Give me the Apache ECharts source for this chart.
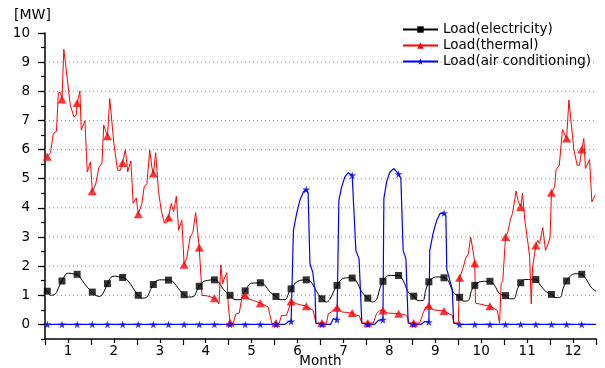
<!DOCTYPE html>
<html>
<head>
<meta charset="utf-8">
<script src="https://cdn.jsdelivr.net/npm/echarts@6/dist/echarts.min.js"></script>
<style>
  html, body { margin: 0; padding: 0; background: #fff; }
  #chart { width: 605px; height: 368px; }
</style>
</head>
<body>
<div id="chart"></div>
<script>
// month labels sit between the month boundaries
const monthLabels = ['1', '2', '3', '4', '5', '6', '7', '8', '9', '10', '11', '12']
const yTicks = [0, 1, 2, 3, 4, 5, 6, 7, 8, 9, 10]
const gridLevels = [1, 2, 3, 4, 5, 6, 7, 8, 9]

// x position (month) of every marker
const markerMonth = [0.05, 0.37, 0.70, 1.03, 1.36, 1.69, 2.03, 2.36, 2.69, 3.03, 3.36, 3.69,
  4.03, 4.36, 4.69, 5.03, 5.36, 5.69, 6.03, 6.36, 6.69, 7.03, 7.36, 7.70,
  8.03, 8.36, 8.69, 9.03, 9.36, 9.69, 10.03, 10.36, 10.69, 11.03, 11.36, 11.69]

const elecMarkers = [1.14, 1.49, 1.72, 1.11, 1.40, 1.61, 1.00, 1.37, 1.52, 1.02, 1.31, 1.53,
  1.00, 1.15, 1.43, 0.96, 1.22, 1.53, 0.88, 1.34, 1.59, 0.90, 1.48, 1.68,
  0.97, 1.46, 1.60, 0.93, 1.34, 1.48, 0.99, 1.43, 1.54, 1.03, 1.49, 1.72]
const thermMarkers = [5.75, 7.72, 7.60, 4.57, 6.46, 5.54, 3.78, 5.18, 3.67, 2.05, 2.64, 0.90,
  0.06, 1.00, 0.73, 0.05, 0.79, 0.62, 0.05, 0.57, 0.39, 0.05, 0.48, 0.37,
  0.05, 0.64, 0.46, 1.60, 2.10, 0.62, 3.00, 4.03, 2.71, 4.52, 6.38, 6.00]
const acMarkers = [0, 0, 0, 0, 0, 0, 0, 0, 0, 0, 0, 0,
  0, 0, 0, 0, 0.10, 4.63, 0, 0.16, 5.12, 0, 0.16, 5.16,
  0, 0.08, 3.82, 0, 0, 0, 0, 0, 0, 0, 0, 0]

// line vertices between the markers
const elecLine = [[0, 1.16], [0.12, 1.0], [0.23, 1.05], [0.30, 1.28], [0.45, 1.72], [0.52, 1.76], [0.63, 1.73],
  [0.81, 1.51], [0.92, 1.28], [1.10, 1.0], [1.19, 0.96], [1.28, 1.11], [1.44, 1.62], [1.53, 1.66], [1.61, 1.63],
  [1.79, 1.53], [1.93, 1.22], [2.11, 0.90], [2.22, 0.94], [2.30, 1.20], [2.44, 1.51], [2.55, 1.53],
  [2.80, 1.45], [2.91, 1.22], [3.13, 0.94], [3.24, 0.96], [3.31, 1.17], [3.44, 1.46], [3.53, 1.51],
  [3.78, 1.46], [3.89, 1.19], [4.14, 0.85], [4.25, 0.85], [4.31, 1.0], [4.47, 1.40], [4.55, 1.42],
  [4.79, 1.34], [4.90, 1.11], [5.12, 0.85], [5.23, 0.85], [5.30, 1.05], [5.45, 1.42], [5.55, 1.51],
  [5.79, 1.46], [5.90, 1.17], [6.13, 0.77], [6.20, 0.85], [6.28, 1.11], [6.46, 1.55], [6.57, 1.60],
  [6.78, 1.49], [6.90, 1.11], [7.13, 0.77], [7.22, 0.85], [7.29, 1.22], [7.44, 1.65], [7.55, 1.68],
  [7.80, 1.51], [7.91, 1.11], [8.12, 0.82], [8.23, 0.82], [8.29, 1.17], [8.45, 1.60], [8.56, 1.63],
  [8.78, 1.51], [8.89, 1.11], [9.12, 0.80], [9.22, 0.82], [9.29, 1.17], [9.47, 1.46], [9.57, 1.48],
  [9.79, 1.34], [9.90, 1.05], [10.12, 0.88], [10.21, 0.88], [10.29, 1.22], [10.45, 1.54], [10.53, 1.54],
  [10.79, 1.34], [10.92, 1.11], [11.13, 0.92], [11.23, 0.94], [11.28, 1.22], [11.46, 1.69], [11.57, 1.74],
  [11.78, 1.57], [11.89, 1.28], [12.0, 1.14]]

const thermLine = [[0, 5.70], [0.12, 5.89], [0.18, 6.55], [0.25, 6.63], [0.29, 7.95], [0.34, 7.95],
  [0.41, 9.44], [0.48, 8.50], [0.55, 7.53], [0.63, 7.12], [0.68, 7.18], [0.76, 8.01], [0.79, 6.67],
  [0.87, 6.99], [0.92, 5.23], [0.99, 5.58], [1.10, 4.78], [1.17, 5.37], [1.24, 5.53], [1.28, 6.84],
  [1.32, 6.78], [1.41, 7.75], [1.50, 6.21], [1.58, 5.29], [1.64, 5.29], [1.75, 6.00], [1.80, 5.23],
  [1.87, 5.61], [1.92, 4.15], [1.99, 4.34], [2.11, 4.15], [2.16, 4.72], [2.22, 4.83], [2.28, 5.98],
  [2.33, 5.37], [2.41, 5.89], [2.47, 4.60], [2.53, 3.92], [2.60, 3.48], [2.67, 3.52], [2.75, 4.15],
  [2.80, 3.87], [2.86, 4.40], [2.91, 3.23], [2.98, 3.57], [3.09, 2.30], [3.16, 3.00], [3.22, 3.15],
  [3.28, 3.84], [3.42, 1.00], [3.53, 0.98], [3.79, 0.70], [3.83, 2.04], [3.87, 1.40], [3.90, 1.55],
  [3.96, 1.78], [3.99, 0.70], [4.10, 0.05], [4.16, 0.37], [4.23, 0.39], [4.29, 0.95], [4.43, 0.88],
  [4.54, 0.82], [4.86, 0.60], [4.94, 0.03], [5.10, 0.03], [5.15, 0.31], [5.26, 0.31], [5.48, 0.71],
  [5.84, 0.48], [5.90, 0.05], [6.13, 0.05], [6.17, 0.37], [6.24, 0.43], [6.28, 0.50], [6.46, 0.43],
  [6.57, 0.41], [6.78, 0.31], [6.84, 0.31], [6.90, 0.05], [7.15, 0.05], [7.22, 0.37], [7.29, 0.48],
  [7.47, 0.39], [7.81, 0.34], [7.88, 0.31], [7.93, 0.05], [8.16, 0.05], [8.23, 0.37], [8.29, 0.60],
  [8.45, 0.50], [8.80, 0.37], [8.87, 0.31], [8.91, 0.05], [9.00, 0.05], [9.10, 1.91], [9.16, 2.26],
  [9.22, 2.43], [9.27, 3.00], [9.32, 2.54], [9.375, 0.73], [9.50, 0.69], [9.79, 0.54], [9.85, 0.48],
  [9.90, 0.04], [9.935, 1.40], [9.97, 1.50], [10.08, 3.17], [10.14, 3.63], [10.18, 3.80], [10.26, 4.58],
  [10.30, 4.26], [10.40, 4.50], [10.45, 3.57], [10.52, 2.77], [10.555, 2.30], [10.59, 0.71], [10.62, 1.97],
  [10.73, 2.89], [10.77, 2.77], [10.84, 3.32], [10.90, 2.54], [10.96, 2.77], [11.00, 3.00], [11.10, 4.72],
  [11.13, 5.31], [11.20, 5.46], [11.27, 6.69], [11.31, 6.69], [11.41, 7.70], [11.46, 6.90], [11.52, 5.98],
  [11.59, 5.46], [11.64, 5.46], [11.735, 6.38], [11.77, 5.35], [11.86, 5.66], [11.91, 4.20], [11.98, 4.43]]

const acLine = [[0, 0], [5.23, 0], [5.30, 0.10], [5.41, 3.23], [5.48, 3.80], [5.55, 4.26], [5.63, 4.55],
  [5.73, 4.51], [5.77, 2.08], [5.83, 1.80], [5.88, 1.16], [5.90, 0.04], [6.22, 0], [6.28, 0.20],
  [6.40, 4.26], [6.46, 4.72], [6.53, 5.06], [6.60, 5.20], [6.73, 5.06], [6.77, 2.54], [6.84, 2.25],
  [6.90, 0.04], [7.18, 0], [7.26, 0.14], [7.38, 4.32], [7.44, 4.89], [7.51, 5.23], [7.60, 5.35],
  [7.75, 5.01], [7.80, 2.54], [7.86, 2.25], [7.91, 0.04], [8.19, 0], [8.27, 0.10], [8.38, 2.54],
  [8.45, 3.11], [8.53, 3.57], [8.60, 3.80], [8.73, 3.74], [8.75, 1.90], [8.87, 1.20], [8.90, 0.04],
  [12.0, 0]]

const STAR = 'path://M50,0 L61,35 L98,35 L68,57 L79,91 L50,70 L21,91 L32,57 L2,35 L39,35 Z'
const FONT = 'DejaVu Sans'

function markerPoints(vals) {
  return markerMonth.map((m, i) => [m, vals[i]])
}
// line goes through the marker points too
function fullLine(line, vals) {
  return line.concat(markerPoints(vals)).sort((a, b) => a[0] - b[0])
}

// dotted horizontal grid lines, one small series per level
const gridSeries = gridLevels.map(v => ({
  type: 'line',
  data: [[0, v], [12, v]],
  symbol: 'none',
  silent: true,
  lineStyle: { color: '#8a8a8a', type: [1, 3], width: 1 },
  z: 1
}))

const chart = echarts.init(document.getElementById('chart'))
const option = {
  animation: false,
  title: {
    text: '[MW]',
    left: 14,
    top: 8,
    padding: 0,
    textStyle: { fontFamily: FONT, fontSize: 14, fontWeight: 'normal', color: '#000' }
  },
  legend: {
    orient: 'vertical',
    left: 402,
    top: 22,
    padding: 0,
    itemWidth: 35,
    itemHeight: 8,
    itemGap: 1,
    textStyle: { fontFamily: FONT, fontSize: 13.5, color: '#000', lineHeight: 15 },
    data: ['Load(electricity)', 'Load(thermal)', 'Load(air conditioning)']
  },
  grid: { left: 45, right: 9, top: 33, bottom: 29, outerBoundsMode: 'none', containLabel: false },
  xAxis: [{
    type: 'value',
    min: 0,
    max: 12,
    interval: 1,
    position: 'bottom',
    axisLine: { onZero: false, lineStyle: { color: '#000', width: 1.5 } },
    axisTick: { length: 6, lineStyle: { color: '#000', width: 1.2 } },
    minorTick: { show: true, splitNumber: 2, length: 4, lineStyle: { color: '#000', width: 1.2 } },
    axisLabel: { show: false },
    splitLine: { show: false }
  }, {
    type: 'category',
    data: monthLabels,
    position: 'bottom',
    boundaryGap: true,
    axisLine: { show: false, onZero: false },
    axisTick: { show: false },
    axisLabel: { margin: 5, fontFamily: FONT, fontSize: 13.5, color: '#000' },
    name: 'Month',
    nameLocation: 'middle',
    nameGap: 15,
    nameMoveOverlap: false,
    nameTextStyle: { fontFamily: FONT, fontSize: 13.5, color: '#000' }
  }],
  yAxis: [{
    type: 'value',
    min: -0.5,
    max: 10,
    interval: 0.5,
    position: 'left',
    axisLine: { show: true, onZero: false, lineStyle: { color: '#000', width: 1.5 } },
    axisTick: { length: 4, lineStyle: { color: '#000', width: 1.2 } },
    axisLabel: { show: false },
    splitLine: { show: false }
  }, {
    type: 'value',
    min: -0.5,
    max: 10,
    position: 'left',
    axisLine: { show: false, onZero: false },
    axisTick: { show: true, customValues: yTicks, length: 7, lineStyle: { color: '#000', width: 1.2 } },
    axisLabel: { customValues: yTicks, margin: 15, fontFamily: FONT, fontSize: 13.5, color: '#000' },
    splitLine: { show: false }
  }],
  series: gridSeries.concat([{
    name: 'Load(electricity)',
    type: 'line',
    data: fullLine(elecLine, elecMarkers),
    symbol: 'rect',
    showSymbol: false,
    smooth: 0.35,
    lineStyle: { color: '#000', width: 1 },
    itemStyle: { color: '#000' },
    z: 3
  }, {
    name: 'Load(thermal)',
    type: 'line',
    data: fullLine(thermLine, thermMarkers),
    symbol: 'triangle',
    showSymbol: false,
    lineStyle: { color: '#ff0000', width: 1 },
    itemStyle: { color: '#ff0000' },
    z: 3
  }, {
    name: 'Load(air conditioning)',
    type: 'line',
    data: fullLine(acLine, acMarkers),
    symbol: STAR,
    showSymbol: false,
    lineStyle: { color: '#0000ff', width: 1.2 },
    itemStyle: { color: '#0000ff' },
    z: 3
  }, {
    name: 'Load(electricity)',
    type: 'scatter',
    data: markerPoints(elecMarkers),
    symbol: 'rect',
    symbolSize: 7,
    itemStyle: { color: '#000' },
    z: 4
  }, {
    name: 'Load(thermal)',
    type: 'scatter',
    data: markerPoints(thermMarkers),
    symbol: 'triangle',
    symbolSize: [9, 8],
    itemStyle: { color: '#ff0000' },
    z: 4
  }, {
    name: 'Load(air conditioning)',
    type: 'scatter',
    data: markerPoints(acMarkers),
    symbol: STAR,
    symbolSize: 8,
    itemStyle: { color: '#0000ff' },
    z: 4
  }])
}
chart.setOption(option)
</script>
</body>
</html>
